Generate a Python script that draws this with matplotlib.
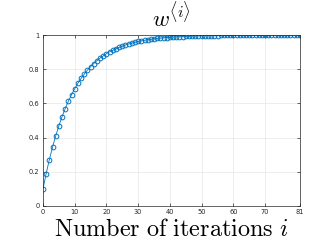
import matplotlib
matplotlib.use("Agg")
import matplotlib.pyplot as plt

plt.rcParams['mathtext.fontset'] = 'cm'

iterations = list(range(0, 82))
w_values = [
    0.100, 0.190, 0.271, 0.344, 0.410, 0.469, 0.522, 0.570, 0.613, 0.651,
    0.686, 0.718, 0.746, 0.771, 0.794, 0.815, 0.833, 0.850, 0.865, 0.878,
    0.891, 0.902, 0.911, 0.920, 0.928, 0.935, 0.942, 0.948, 0.953, 0.958,
    0.962, 0.966, 0.969, 0.972, 0.975, 0.977, 0.980, 0.982, 0.984, 0.985,
    0.987, 0.988, 0.989, 0.990, 0.991, 0.992, 0.993, 0.994, 0.994, 0.995,
    0.995, 0.996, 0.996, 0.997, 0.997, 0.997, 0.998, 0.998, 0.998, 0.998,
    0.998, 0.999, 0.999, 0.999, 0.999, 0.999, 0.999, 0.999, 0.999, 0.999,
    1.000, 1.000, 1.000, 1.000, 1.000, 1.000, 1.000, 1.000, 1.000, 1.000,
    1.000, 1.000,
]
xticks = [0, 10, 20, 30, 40, 50, 60, 70, 81]
yticks = [0, 0.2, 0.4, 0.6, 0.8, 1]
ytick_labels = ['0', '0.2', '0.4', '0.6', '0.8', '1']

fig = plt.figure(figsize=(3.32, 2.49), dpi=100)
ax = fig.add_axes([43/332, 1 - 206/249, 257/332, 171/249])

ax.plot(iterations, w_values, color='#0072BD', marker='o', markersize=3.4,
        markerfacecolor='none', markeredgewidth=0.7, linewidth=0.6)

ax.set_xlim(0, 81)
ax.set_ylim(0, 1)
ax.set_xticks(xticks)
ax.set_xticklabels([str(t) for t in xticks])
ax.set_yticks(yticks)
ax.set_yticklabels(ytick_labels)
ax.grid(True, color='#e6e6e6', linewidth=0.5)
ax.set_axisbelow(True)

for s in ax.spines.values():
    s.set_color('#262626')
    s.set_linewidth(0.5)
ax.tick_params(axis='both', labelsize=4.8, colors='#262626', length=2,
               width=0.5, direction='in', pad=2.5, top=True, right=True)

ax.set_title(r'$w^{\langle i\rangle}$', fontsize=16.5, pad=6)
ax.set_xlabel(r'$\mathrm{Number\ of\ iterations}\ i$', fontsize=17.4, labelpad=1)

fig.savefig('out.png', dpi=100)
